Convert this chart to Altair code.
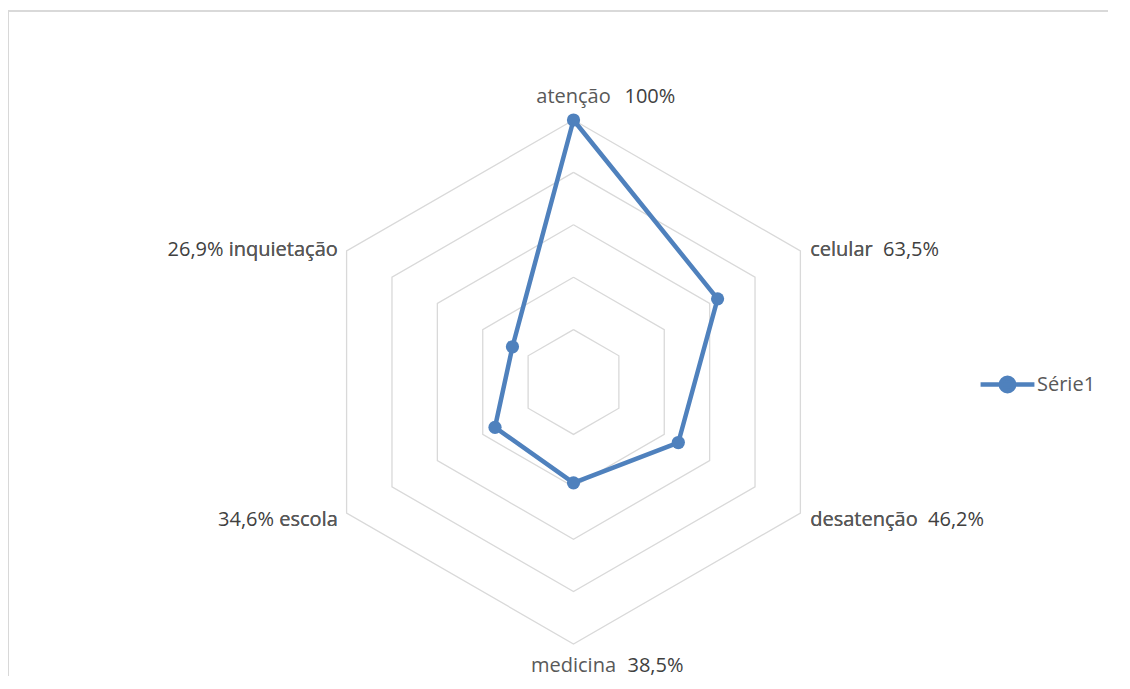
import altair as alt
import pandas as pd

categories = ["atenção", "celular", "desatenção", "medicina", "escola", "inquietação"]
values = [100, 63.5, 46.2, 38.5, 34.6, 26.9]
levels = [20, 40, 60, 80, 100]
series_name = "Série1"

FONT = "Open Sans"
BLUE = "#4f81bd"
GRID = "#d9d9d9"
CAT_COLOR = "#595959"
PCT_COLOR = "#404040"

W, H = 1100, 665
XD = [-215.84, 204.01]
YD = [-112.21, 141.6]


def fmt(v):
    s = f"{v:.1f}".rstrip("0").rstrip(".")
    return s.replace(".", ",") + "%"


n = len(categories)
series_df = pd.DataFrame({
    "idx": list(range(n + 1)),
    "category": [categories[i % n] for i in range(n + 1)],
    "value": [values[i % n] for i in range(n + 1)],
    "serie": [series_name] * (n + 1),
})

ring_df = pd.DataFrame(
    [{"level": lv, "idx": i} for lv in levels for i in range(n + 1)]
)

pcts = [fmt(v) for v in values]
label_df = pd.DataFrame({
    "idx": list(range(n)),
    "category": categories,
    "pct": pcts,
    "right_text": [c + " \u00a0" + p for c, p in zip(categories, pcts)],
    "left_text": [p + " " + c for c, p in zip(categories, pcts)],
})

xs = alt.Scale(domain=XD, nice=False, zero=False)
ys = alt.Scale(domain=YD, nice=False, zero=False)

ang = "datum.idx * PI / 3"

border_top = alt.Chart(ring_df).mark_rule(color=GRID, strokeWidth=1.8, strokeCap="butt").encode(
    x=alt.value(0), x2=alt.value(W + 20), y=alt.value(0)
)
border_left = alt.Chart(ring_df).mark_rule(color=GRID, strokeWidth=1.8, strokeCap="butt").encode(
    x=alt.value(0), y=alt.value(0), y2=alt.value(H + 20)
)

rings = alt.Chart(ring_df).transform_calculate(
    x=f"datum.level * sin({ang})", y=f"datum.level * cos({ang})"
).mark_line(color=GRID, strokeWidth=1.3).encode(
    x=alt.X("x:Q", scale=xs, axis=None),
    y=alt.Y("y:Q", scale=ys, axis=None),
    detail="level:N",
    order="idx:Q",
)

base_series = alt.Chart(series_df).transform_calculate(
    x=f"datum.value * sin({ang})", y=f"datum.value * cos({ang})"
)

line = base_series.mark_line(strokeWidth=4.5, strokeJoin="round").encode(
    x=alt.X("x:Q", scale=xs, axis=None),
    y=alt.Y("y:Q", scale=ys, axis=None),
    order="idx:Q",
    color=alt.Color(
        "serie:N",
        scale=alt.Scale(domain=[series_name], range=[BLUE]),
        legend=alt.Legend(
            title=None,
            orient="none",
            legendX=970,
            legendY=344,
            symbolType="M-1,0L1,0M0.25,0A0.25,0.25 0 1,1 -0.25,0A0.25,0.25 0 1,1 0.25,0Z",
            symbolSize=2900,
            symbolStrokeWidth=4.5,
            symbolFillColor=BLUE,
            symbolStrokeColor=BLUE,
            labelFont=FONT,
            labelFontSize=20,
            labelColor=CAT_COLOR,
            labelOffset=0,
            padding=0,
        ),
    ),
)

points = base_series.transform_filter("datum.idx < 6").mark_point(
    filled=True, size=175, opacity=1
).encode(
    x=alt.X("x:Q", scale=xs, axis=None),
    y=alt.Y("y:Q", scale=ys, axis=None),
    color=alt.value(BLUE),
)

base_lab = alt.Chart(label_df).transform_calculate(
    x=f"103 * sin({ang})", y=f"103 * cos({ang})"
)
enc = dict(
    x=alt.X("x:Q", scale=xs, axis=None),
    y=alt.Y("y:Q", scale=ys, axis=None),
)
tstyle = dict(font=FONT, fontSize=20, baseline="middle")

top = base_lab.transform_filter("datum.idx == 0")
bottom = base_lab.transform_filter("datum.idx == 3")
right = base_lab.transform_filter("datum.idx == 1 || datum.idx == 2")
left = base_lab.transform_filter("datum.idx == 4 || datum.idx == 5")

layers = [
    border_top,
    border_left,
    rings,
    line,
    points,
    top.mark_text(align="center", dy=-15, color=CAT_COLOR, **tstyle).encode(text="category:N", **enc),
    top.mark_text(align="left", dx=51, dy=-15, color=PCT_COLOR, **tstyle).encode(text="pct:N", **enc),
    bottom.mark_text(align="center", dy=14, color=CAT_COLOR, **tstyle).encode(text="category:N", **enc),
    bottom.mark_text(align="left", dx=54, dy=14, color=PCT_COLOR, **tstyle).encode(text="pct:N", **enc),
    right.mark_text(align="left", dx=3, dy=3, color=PCT_COLOR, **tstyle).encode(text="right_text:N", **enc),
    right.mark_text(align="left", dx=3, dy=3, color=CAT_COLOR, **tstyle).encode(text="category:N", **enc),
    left.mark_text(align="right", dx=-2, dy=3, color=PCT_COLOR, **tstyle).encode(text="left_text:N", **enc),
    left.mark_text(align="right", dx=-2, dy=3, color=CAT_COLOR, **tstyle).encode(text="category:N", **enc),
]

chart = alt.layer(*layers).properties(
    width=W,
    height=H,
    autosize=alt.AutoSizeParams(type="none"),
    padding={"left": 0, "top": 3, "right": 0, "bottom": 0},
).configure_view(strokeWidth=0, stroke="transparent")

chart.save("out.html", embed_options={"renderer": "svg", "actions": False})
